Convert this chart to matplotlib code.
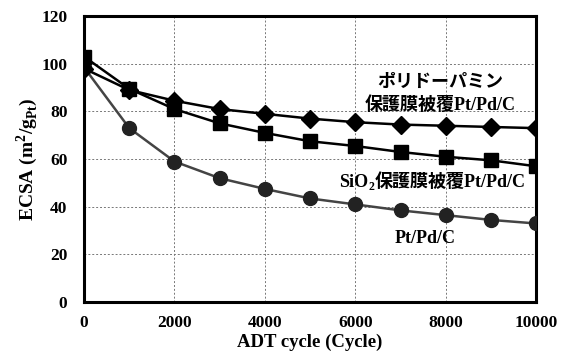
import numpy as np
import matplotlib.pyplot as plt

plt.rcParams['font.family'] = ['Liberation Serif', 'Noto Sans CJK JP']
plt.rcParams['font.weight'] = 'bold'
plt.rcParams['mathtext.fontset'] = 'custom'
plt.rcParams['mathtext.rm'] = 'Liberation Serif:bold'
plt.rcParams['mathtext.bf'] = 'Liberation Serif:bold'

cycles = [0, 1000, 2000, 3000, 4000, 5000, 6000, 7000, 8000, 9000, 10000]
ecsa_pda = [98, 89, 84.5, 81, 79, 77, 75.5, 74.5, 74, 73.5, 73]
ecsa_sio2 = [103, 89.5, 81, 75, 71, 67.5, 65.5, 63, 61, 59.5, 57]
ecsa_bare = [98.5, 73, 59, 52, 47.5, 43.5, 41, 38.5, 36.5, 34.5, 33]

fig = plt.figure(figsize=(5.68, 3.58), dpi=100)
ax = fig.add_axes([0.148, 0.156, 0.796, 0.799])

ax.plot(cycles, ecsa_bare, '-o', color='#444444', mfc='#222222', mec='#222222',
        lw=1.8, ms=10, zorder=3)
ax.plot(cycles, ecsa_sio2, '-s', color='black', lw=1.8, ms=10, zorder=4)
ax.plot(cycles, ecsa_pda, '-D', color='black', lw=1.8, ms=9, zorder=5)

ax.set_xlim(0, 10000)
ax.set_ylim(0, 120)
ax.set_xticks(np.arange(0, 10001, 2000))
ax.set_yticks(np.arange(0, 121, 20))
ax.tick_params(length=0, labelsize=12.5)
ax.tick_params(axis='x', pad=9)
ax.tick_params(axis='y', pad=12)
for lab in ax.get_xticklabels() + ax.get_yticklabels():
    lab.set_fontweight('bold')
ax.grid(True, linestyle=(0, (2, 2)), color='#777777', lw=0.7)
for s in ax.spines.values():
    s.set_linewidth(2.2)

ax.set_xlabel('ADT cycle (Cycle)', fontsize=13.5, fontweight='bold', labelpad=2)
ax.set_ylabel(r'ECSA (m$^{\mathrm{2}}$/g$_{\mathrm{Pt}}$)', fontsize=14, fontweight='bold', labelpad=1)

fs = 13
ax.text(7876, 92.3, 'ポリドーパミン', ha='center', va='center', fontsize=fs, fontweight='bold')
ax.text(7876, 82.7, '保護膜被覆Pt/Pd/C', ha='center', va='center', fontsize=fs, fontweight='bold')
t1 = ax.text(5650, 48.3, 'SiO', ha='left', va='baseline', fontsize=fs, fontweight='bold')
t2 = ax.annotate('2', xy=(1, 0), xycoords=t1, xytext=(0, -1.5), textcoords='offset points',
                 ha='left', va='bottom', fontsize=fs * 0.65, fontweight='bold')
ax.annotate('保護膜被覆Pt/Pd/C', xy=(1, 0), xycoords=t2, xytext=(0, 1.5), textcoords='offset points',
            ha='left', va='bottom', fontsize=fs, fontweight='bold')
ax.text(7544, 26.9, 'Pt/Pd/C', ha='center', va='center', fontsize=fs, fontweight='bold')

fig.savefig('out.png', dpi=100)
